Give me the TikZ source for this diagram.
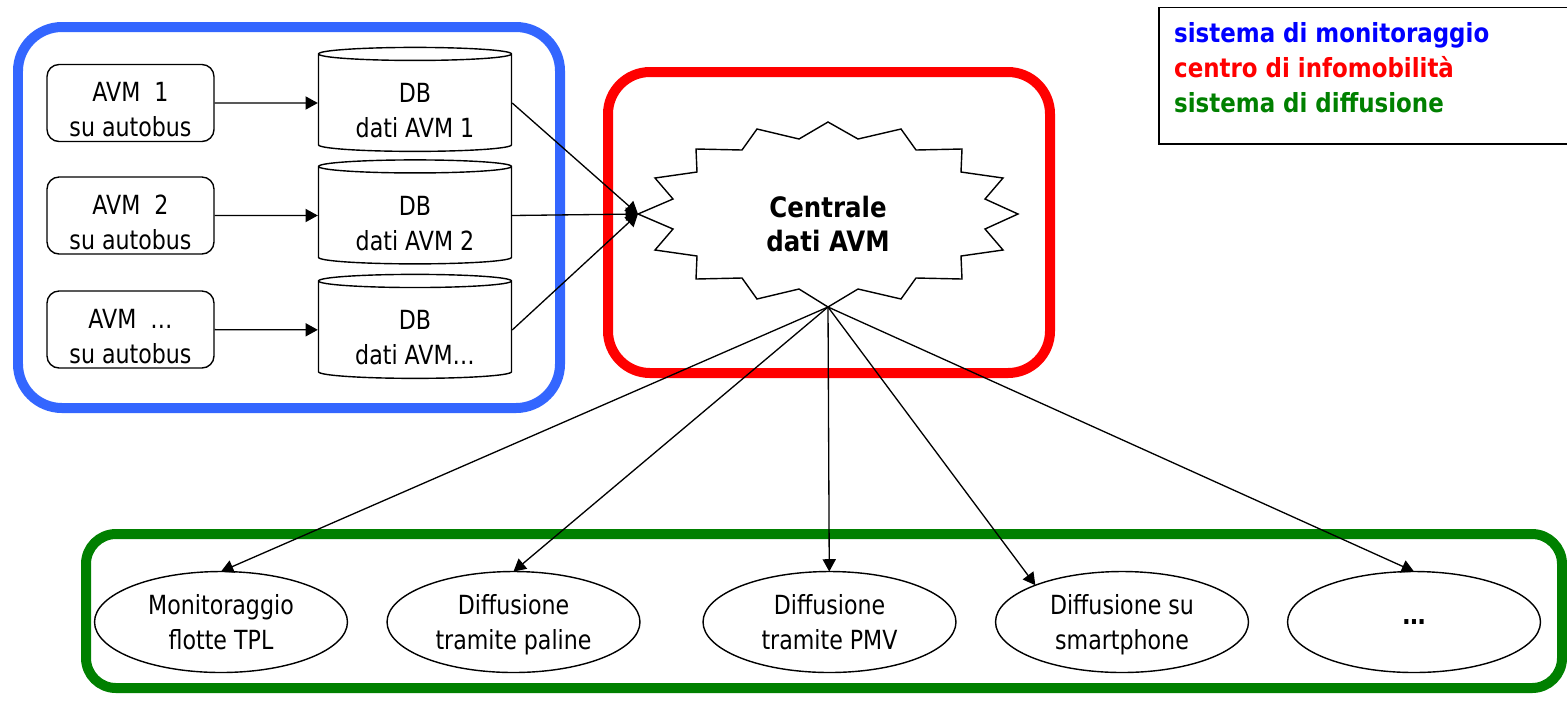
\documentclass[tikz,border=0pt]{standalone}
\usepackage{fontspec}
\setmainfont{DejaVu Sans}[FakeStretch=0.84,BoldFeatures={FakeStretch=0.87}]
\usetikzlibrary{shapes.geometric,arrows.meta}
\definecolor{bordoblu}{RGB}{51,102,255}
\definecolor{verdescuro}{RGB}{0,128,0}

\begin{document}
\begin{tikzpicture}[x=0.02cm,y=-0.02cm,
  every node/.style={font=\fontsize{15}{20}\selectfont, align=center},
  avm/.style={draw, line width=0.8pt, rounded corners=0.24cm, minimum width=3.34cm, minimum height=1.54cm, inner sep=0pt, text height=38.6pt, text depth=0pt},
  db/.style={draw, line width=0.8pt, cylinder, shape border rotate=90, aspect=0.11, minimum width=3.86cm, minimum height=2.08cm, inner sep=0pt, text height=39.8pt, text depth=0pt},
  uscita/.style={draw, line width=0.8pt, ellipse, minimum width=5.06cm, minimum height=2.02cm, inner sep=0pt, outer sep=0pt, text depth=0pt},
  freccia/.style={line width=0.75pt, -{Triangle[length=7pt,width=7.5pt]}},
  cornice/.style={line width=0.2cm}]
\useasboundingbox (0,0) rectangle (1567,701);

\draw[cornice,bordoblu,rounded corners=0.88cm] (18,27) rectangle (560,408); %monitoraggio
\draw[cornice,red,rounded corners=0.84cm] (608,72) rectangle (1050,373); %infomobilita
\draw[cornice,verdescuro,rounded corners=0.6cm] (86,534) rectangle (1562,688); %diffusione

\node[avm] (avm1) at (130.5,103) {AVM\ \ 1\\su autobus};
\node[avm] (avm2) at (130.5,215.5) {AVM\ \ 2\\su autobus};
\node[avm] (avm3) at (130.5,329.5) {AVM\ \ …\\su autobus};

\node[db] (db1) at (415,103) {DB\\dati AVM 1};
\node[db] (db2) at (415,215.5) {DB\\dati AVM 2};
\node[db] (db3) at (415,330) {DB\\dati AVM…};

\draw[line width=0.8pt,shift={(828,214)}] (-190,0) -- (-155,-15) -- (-173,-36) -- (-131,-42)
  -- (-132,-65) -- (-86,-64) -- (-71,-85) -- (-29,-75) -- (0,-92) -- (30,-75) -- (73,-85)
  -- (88,-64) -- (134,-65) -- (133,-42) -- (175,-36) -- (157,-15) -- (190,0) -- (157,15)
  -- (175,36) -- (133,42) -- (134,65) -- (88,64) -- (73,85) -- (30,75) -- (0,93) -- (-29,75)
  -- (-71,85) -- (-86,64) -- (-132,65) -- (-131,42) -- (-173,36) -- (-155,15) -- cycle; %stella
\node[font=\bfseries\fontsize{16}{19}\selectfont] (centrale) at (828,224) {Centrale\\dati AVM};
\coordinate (ovest) at (638,214);
\coordinate (sud) at (828,307);

\node[uscita] (tpl) at (221,622) {Monitoraggio\\flotte TPL};
\node[uscita] (paline) at (513.5,622) {Diffusione\\tramite paline};
\node[uscita] (pmv) at (829.5,622) {Diffusione\\tramite PMV};
\node[uscita] (smart) at (1122,622) {Diffusione su\\smartphone};
\node[uscita] (altro) at (1414,622) {\textbf{…}};

\draw[freccia] (avm1) -- (db1);
\draw[freccia] (avm2) -- (db2);
\draw[freccia] (avm3) -- (db3);
\draw[freccia] (db1.east) -- (ovest);
\draw[freccia] (db2.east) -- (ovest);
\draw[freccia] (db3.east) -- (ovest);

\draw[freccia] (sud) -- (tpl.north);
\draw[freccia] (sud) -- (paline.north);
\draw[freccia] (sud) -- (pmv);
\draw[freccia] (sud) -- (smart.157);
\draw[freccia] (sud) -- (altro.north);

\draw[line width=0.9pt] (1159,7.5) rectangle (1580,144); %legenda
\node[anchor=west,align=left,font=\bfseries\fontsize{15}{20}\selectfont] (legenda) at (1168,68)
  {\textcolor{blue}{sistema di monitoraggio}\\\textcolor{red}{centro di infomobilità}\\\textcolor{verdescuro}{sistema di diffusione}};
\end{tikzpicture}
\end{document}
